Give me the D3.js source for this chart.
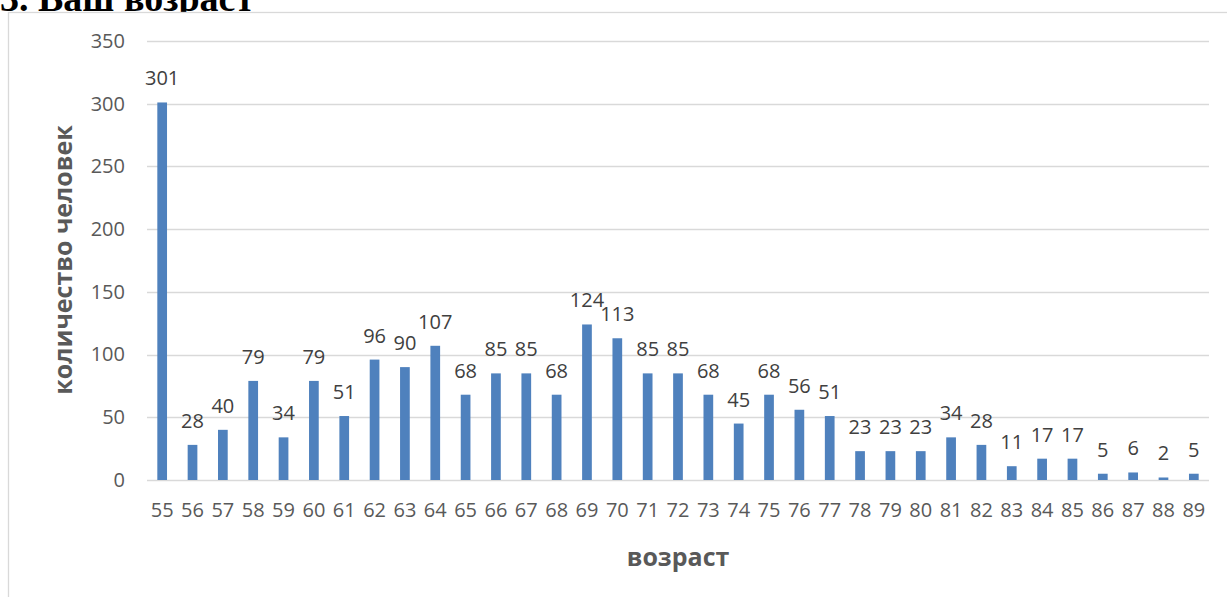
<!DOCTYPE html>
<html>
<head>
<meta charset="utf-8">
<script src="https://cdn.jsdelivr.net/npm/d3@7"></script>
<style>
  body { margin: 0; background: #fff; }
  svg text { font-family: "Open Sans", "Liberation Sans", sans-serif; }
</style>
</head>
<body>
<div id="container"></div>
<script>
const ages = ["55","56","57","58","59","60","61","62","63","64","65","66","67","68","69","70","71","72",
  "73","74","75","76","77","78","79","80","81","82","83","84","85","86","87","88","89"];
const counts = [301,28,40,79,34,79,51,96,90,107,68,85,85,68,124,113,85,85,
  68,45,68,56,51,23,23,23,34,28,11,17,17,5,6,2,5];
const yTicks = [0,50,100,150,200,250,300,350];

const w = 1227;
const h = 597;
const plotLeft = 147;
const plotRight = 1209;
const plotTop = 41;
const plotBottom = 480;

const svg = d3.select("#container")
  .append("svg")
  .attr("width", w)
  .attr("height", h);

// title, its top cut by the page edge, its foot hidden by the chart box
svg.append("text")
  .text("3. Ваш возраст")
  .attr("x", 0)
  .attr("y", 11)
  .style("font-family", "'Liberation Serif', 'Times New Roman', serif")
  .style("font-weight", "bold")
  .style("font-size", "38px")
  .attr("fill", "#000");

// chart frame
svg.append("rect")
  .attr("x", 8.5)
  .attr("y", 12.5)
  .attr("width", 1240)
  .attr("height", 620)
  .attr("fill", "#fff")
  .attr("stroke", "#d9d9d9")
  .attr("stroke-width", 1.3);

const xScale = d3.scaleBand()
  .domain(ages)
  .range([plotLeft, plotRight])
  .paddingInner(0.68)
  .paddingOuter(0.34);

const yScale = d3.scaleLinear()
  .domain([0, 350])
  .range([plotBottom, plotTop]);

// gridlines
svg.append("g")
  .selectAll("line")
  .data(yTicks)
  .enter()
  .append("line")
  .attr("x1", plotLeft)
  .attr("x2", plotRight)
  .attr("y1", d => Math.round(yScale(d)) + 0.5)
  .attr("y2", d => Math.round(yScale(d)) + 0.5)
  .attr("stroke", "#d9d9d9")
  .attr("stroke-width", 1.3);

const yAxis = d3.axisLeft(yScale)
  .tickValues(yTicks)
  .tickSize(0)
  .tickPadding(0);

svg.append("g")
  .attr("transform", `translate(${125}, 0)`)
  .call(yAxis)
  .call(g => g.select(".domain").remove())
  .selectAll("text")
  .attr("fill", "#595959")
  .style("font-size", "20px");

const xAxis = d3.axisBottom(xScale)
  .tickSize(0)
  .tickPadding(0);

svg.append("g")
  .attr("transform", `translate(0, ${plotBottom + 23})`)
  .call(xAxis)
  .call(g => g.select(".domain").remove())
  .selectAll("text")
  .attr("fill", "#595959")
  .style("font-size", "20px");

svg.append("g")
  .selectAll("rect")
  .data(counts)
  .enter()
  .append("rect")
  .attr("x", (d, i) => xScale(ages[i]))
  .attr("y", d => yScale(d))
  .attr("width", xScale.bandwidth())
  .attr("height", d => plotBottom - yScale(d))
  .attr("fill", "#4f81bd");

svg.append("g")
  .selectAll("text")
  .data(counts)
  .enter()
  .append("text")
  .text(d => d)
  .attr("x", (d, i) => xScale(ages[i]) + xScale.bandwidth() / 2)
  .attr("y", d => yScale(d) - 17)
  .attr("text-anchor", "middle")
  .attr("fill", "#404040")
  .style("font-size", "20px");

svg.append("text")
  .text("количество человек")
  .attr("transform", `translate(${72}, ${260}) rotate(-90)`)
  .attr("text-anchor", "middle")
  .attr("fill", "#595959")
  .style("font-weight", "bold")
  .style("font-size", "25px");

svg.append("text")
  .text("возраст")
  .attr("x", 678)
  .attr("y", 566)
  .attr("text-anchor", "middle")
  .attr("fill", "#595959")
  .style("font-weight", "bold")
  .style("font-size", "25px");
</script>
</body>
</html>
